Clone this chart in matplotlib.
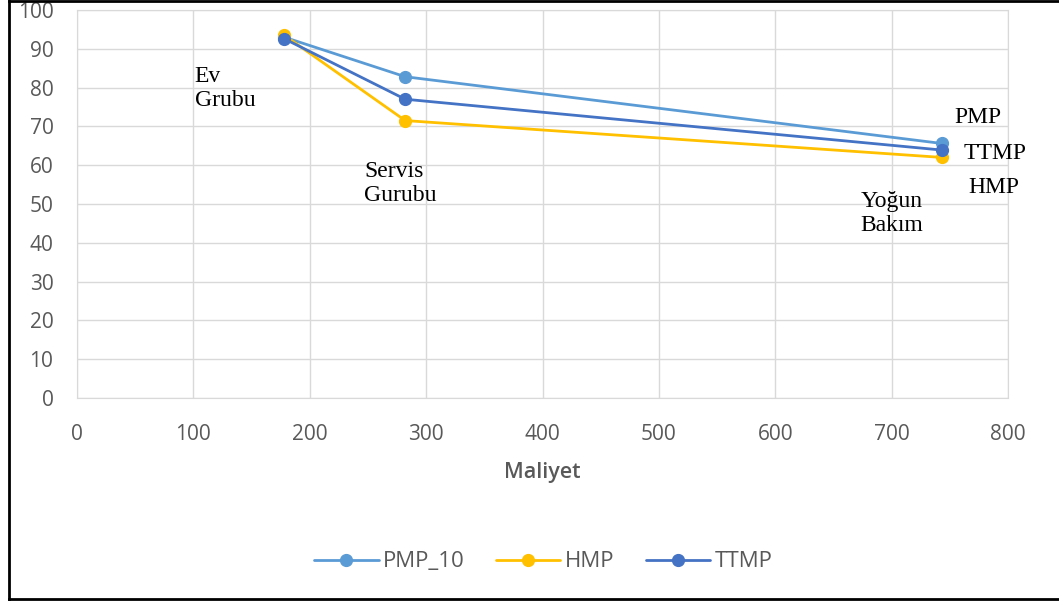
import matplotlib

matplotlib.use("Agg")
import matplotlib.pyplot as plt
from matplotlib.lines import Line2D

# cost (x) and score (y) per group: Ev Grubu, Servis Gurubu, Yoğun Bakım
maliyet = [178, 282, 743]
pmp_10 = [93.0, 82.8, 65.6]
hmp = [93.5, 71.5, 62.0]
ttmp = [92.6, 77.0, 63.9]

series_names = ["PMP_10", "HMP", "TTMP"]
series_colors = ["#5B9BD5", "#FFC000", "#4472C4"]

# group annotations (text, x, y) in data units
group_labels = ["Ev\nGrubu", "Servis\nGurubu", "Yoğun\nBakım"]
group_pos = [(101, 85.5), (247, 61.0), (673, 53.3)]
method_labels = ["PMP", "TTMP", "HMP"]
method_pos = [(754, 72.3), (762, 63.1), (765.5, 54.3)]

x_ticks = list(range(0, 801, 100))
y_ticks = list(range(0, 101, 10))

fig = plt.figure(figsize=(10.59, 6.01), dpi=100)
ax = fig.add_axes([0.0727, 0.3378, 0.8792, 0.6456])

for name, vals, c in zip(series_names, [pmp_10, hmp, ttmp], series_colors):
    ax.plot(maliyet, vals, color=c, lw=2.0, marker="o", ms=8.5, label=name,
            solid_capstyle="round")

ax.set_xlim(0, 800)
ax.set_ylim(0, 100)
ax.set_xticks(x_ticks)
ax.set_yticks(y_ticks)
ax.grid(True, color="#d9d9d9", lw=1.0)
ax.set_axisbelow(True)
for s in ax.spines.values():
    s.set_color("#d9d9d9")
ax.tick_params(length=0, labelsize=15, labelcolor="#595959")
for lab in ax.get_xticklabels() + ax.get_yticklabels():
    lab.set_fontfamily("Open Sans")
ax.tick_params(axis="y", pad=17)
ax.tick_params(axis="x", pad=19)

ax.set_xlabel("Maliyet", fontsize=15.5, color="#595959", family="Open Sans",
              fontweight="semibold", labelpad=12)

for txt, (x, y) in zip(group_labels, group_pos):
    ax.text(x, y, txt, family="Liberation Serif", fontsize=17, ha="left",
            va="top", linespacing=1.2)
for txt, (x, y) in zip(method_labels, method_pos):
    ax.text(x, y, txt, family="Liberation Serif", fontsize=17, ha="left",
            va="center")

leg = fig.legend(loc="center", bbox_to_anchor=(0.513, 0.065), ncol=3, frameon=False,
                 handlelength=2.9, columnspacing=1.4, handletextpad=0.2,
                 prop={"family": "Open Sans", "size": 16})
for t in leg.get_texts():
    t.set_color("#595959")

# outer frame (left, top, bottom)
frame_kw = dict(color="black", lw=2.0, transform=fig.transFigure)
fig.add_artist(Line2D([0.0085, 0.0085], [0.003, 0.999], **frame_kw))
fig.add_artist(Line2D([0.0085, 1.0], [0.999, 0.999], **frame_kw))
fig.add_artist(Line2D([0.0085, 1.0], [0.004, 0.004], **frame_kw))

fig.savefig("out.png", dpi=100)
